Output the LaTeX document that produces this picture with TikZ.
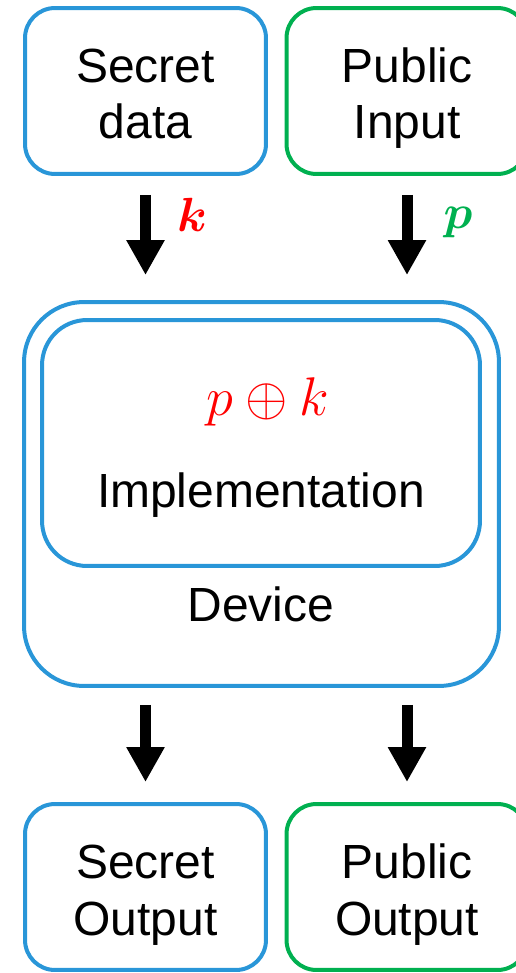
\documentclass[tikz,border=0pt]{standalone}
\usepackage{fix-cm}
\usepackage{fontspec}
\usepackage{amsmath}
\setmainfont{Liberation Sans}
\usetikzlibrary{arrows.meta}
\definecolor{secblue}{RGB}{41,150,216}
\definecolor{pubgreen}{RGB}{0,176,80}

\begin{document}
\begin{tikzpicture}[x=0.02cm, y=-0.02cm,
    box/.style={draw, line width=0.08cm, rounded corners=0.6cm, align=center,
      minimum width=4.82cm, minimum height=3.32cm,
      text height=1.92cm, text depth=0cm,
      font=\fontsize{27.3}{32}\selectfont},
    flow/.style={line width=0.22cm, -{Triangle[width=0.72cm,length=0.7cm]}},
    lbl/.style={font=\fontsize{27.3}{32}\selectfont}]
  \useasboundingbox (0,0) rectangle (515,973);
  \node[box, secblue, text=black] (secret) at (145.5,91) {Secret\\data};
  \node[box, pubgreen, text=black] (public) at (407,91) {Public\\Input};
  \node[draw=secblue, line width=0.08cm, rounded corners=1.2cm,
    minimum width=9.5cm, minimum height=7.68cm] (device) at (261.5,494) {};
  \node[draw=secblue, line width=0.08cm, rounded corners=0.9cm,
    minimum width=8.76cm, minimum height=4.92cm] (impl) at (261,443) {};
  \node[font=\fontsize{31}{36}\selectfont, red] (xor) at (268,402) {$p \oplus k$};
  \node[lbl] (impltext) at (261,495) {Implementation};
  \node[lbl] (devtext) at (261,604) {Device};
  \node[box, secblue, text=black] (secout) at (145.5,887) {Secret\\Output};
  \node[box, pubgreen, text=black] (pubout) at (407,887) {Public\\Output};
  \draw[flow, shorten <=0.38cm, shorten >=0.5cm] (secret.south) -- (secret.south |- device.north);
  \draw[flow, shorten <=0.38cm, shorten >=0.5cm] (public.south) -- (public.south |- device.north);
  \draw[flow, shorten <=0.34cm, shorten >=0.4cm] (secret.south |- device.south) -- (secout.north);
  \draw[flow, shorten <=0.34cm, shorten >=0.4cm] (public.south |- device.south) -- (pubout.north);
  \node[lbl, red] (klbl) at (192,215) {$\boldsymbol{k}$};
  \node[lbl, pubgreen] (plbl) at (458,223) {$\boldsymbol{p}$};
\end{tikzpicture}
\end{document}
